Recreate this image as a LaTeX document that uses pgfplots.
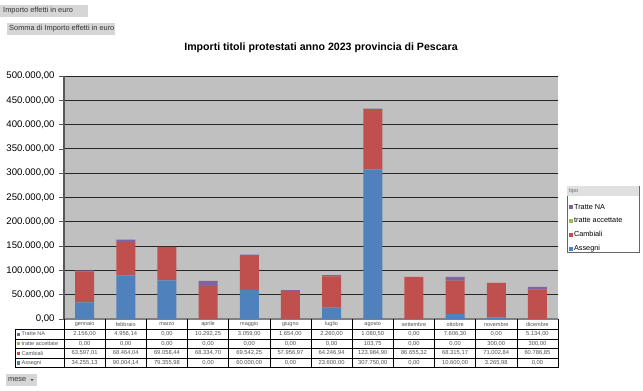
\documentclass[border=0pt]{standalone}
\usepackage{pgfplots}
\pgfplotsset{compat=1.18}
\usepackage{pgfplotstable}
\usepackage{fontspec}
\setmainfont{Liberation Sans}
\definecolor{cNA}{HTML}{8064A2}
\definecolor{cAcc}{HTML}{9BBB59}
\definecolor{cCamb}{HTML}{C0504D}
\definecolor{cAss}{HTML}{4F81BD}
\definecolor{plotbg}{HTML}{C0C0C0}
\definecolor{btn}{HTML}{D6D6D6}
\definecolor{tabtxt}{HTML}{505050}
\pgfkeys{/pgf/number format/itnum/.style={/pgf/number format/fixed, /pgf/number format/fixed zerofill, /pgf/number format/precision=2, /pgf/number format/use comma, /pgf/number format/1000 sep={.}, /pgf/number format/assume math mode=true}}
\pgfplotstableread{
m NA acc camb ass
0 2156.00 0 63597.01 34255.13
1 4956.14 0 68464.04 90004.14
2 0 0 69058.44 79355.98
3 10292.25 0 68334.70 0
4 3059.00 0 69542.25 60000.00
5 1654.00 0 57956.97 0
6 2260.00 0 64246.94 23600.00
7 1080.50 103.75 123984.90 307750.00
8 0 0 86655.32 0
9 7606.30 0 68315.17 10600.00
10 0 300 71002.84 3265.98
11 5134.00 300 60786.85 0
}\data
\begin{document}
\begin{tikzpicture}
\path[use as bounding box] (0,0) rectangle (643pt,-391pt);
\begin{axis}[
  at={(64pt,-319pt)}, anchor=south west,
  scale only axis, width=494pt, height=243pt,
  xmin=-0.5, xmax=11.5, ymin=0, ymax=500000,
  ybar stacked, bar width=19pt,
  axis background/.style={fill=plotbg},
  axis x line*=bottom, axis y line*=left,
  x axis line style={draw=black!50, line width=1.5pt},
  y axis line style={draw=black!65, line width=1.5pt},
  xtick=\empty,
  ytick={0,50000,...,500000},
  ymajorgrids, major grid style={draw=black!85, line width=0.9pt},
  tick style={draw=black!65, line width=0.8pt},
  major tick length=5pt, tick align=outside,
  scaled y ticks=false,
  yticklabel style={/pgf/number format/itnum, font=\fontsize{9.6}{10}\selectfont, xshift=-1pt},
  /pgf/number format/assume math mode=true,
  reverse legend,
  legend style={at={(1.022,0.478)}, anchor=north west, draw=none, fill=none,
    font=\fontsize{7.3}{8}\selectfont, row sep=5.2pt, inner sep=0pt,
    nodes={inner sep=1pt}},
  legend cell align=left,
  legend image code/.code={\fill[#1] (0pt,-2pt) rectangle (4pt,2pt);},
  clip=false,
]
\addplot[fill=cAss, draw=none] table[x=m, y=ass] {\data};
\addplot[fill=cCamb, draw=none] table[x=m, y=camb] {\data};
\addplot[fill=cAcc, draw=none] table[x=m, y=acc] {\data};
\addplot[fill=cNA, draw=none] table[x=m, y=NA] {\data};
\legend{Assegni, Cambiali, tratte accettate, Tratte NA}
\end{axis}
\begin{scope}[x=1pt, y=-1pt]
% title
\node[font=\bfseries\fontsize{10.6}{12}\selectfont] at (321,48) {Importi titoli protestati anno 2023 provincia di Pescara};
% pivot buttons
\fill[btn] (0,5) rectangle (88,16.5);
\node[anchor=west, font=\fontsize{7.4}{8}\selectfont, text=black!80, inner sep=0pt] at (3,10.8) {Importo effetti in euro};
\fill[btn] (7,22.5) rectangle (115,34.5);
\node[anchor=west, font=\fontsize{7.4}{8}\selectfont, text=black!80, inner sep=0pt] at (9,28.5) {Somma di Importo effetti in euro};
\fill[btn] (6,374) rectangle (37,386);
\node[anchor=west, font=\fontsize{7.4}{8}\selectfont, text=black!80, inner sep=0pt] at (8,380) {mese};
\fill[black!70] (30.5,379) -- (33.5,379) -- (32,381) -- cycle;
% legend frame
\draw[black!60, line width=0.7pt] (567,186) rectangle (639,252);
\fill[black!12] (567.4,186.4) rectangle (638.6,196);
\node[anchor=west, font=\fontsize{5.5}{6}\selectfont, text=black!60, inner sep=0pt] at (569,191.2) {tipo};
% data table
\def\colw{41.1667}
\foreach \k in {0,...,12} {
  \pgfmathsetmacro\xx{64+\colw*\k}
  \draw[black, line width=0.6pt] (\xx,319) -- (\xx,367.7);
}
\draw[black, line width=0.6pt] (15,329.3) rectangle (558,367.7);
\foreach \yy in {338.9,348.5,358.1} { \draw[black, line width=0.6pt] (15,\yy) -- (558,\yy); }
\foreach \mname [count=\i from 0] in {gennaio,febbraio,marzo,aprile,maggio,giugno,luglio,agosto,settembre,ottobre,novembre,dicembre} {
  \pgfmathsetmacro\xx{64+\colw*(\i+0.5)}
  \node[font=\fontsize{5.5}{6}\selectfont, text=tabtxt, inner sep=0pt] at (\xx,324.3) {\mname};
}
\foreach \c/\lab/\col [count=\r from 0] in {NA/Tratte NA/cNA, acc/tratte accettate/cAcc, camb/Cambiali/cCamb, ass/Assegni/cAss} {
  \pgfmathsetmacro\yy{334.1+9.6*\r}
  \fill[\col] (17,\yy-1.6) rectangle (20.2,\yy+1.6);
  \node[anchor=west, font=\fontsize{5.5}{6}\selectfont, text=tabtxt, inner sep=0pt] at (21.5,\yy) {\lab};
  \foreach \i in {0,...,11} {
    \pgfplotstablegetelem{\i}{\c}\of\data
    \pgfmathsetmacro\xx{64+\colw*(\i+0.5)}
    \node[font=\fontsize{5.8}{6}\selectfont, text=tabtxt, inner sep=0pt] at (\xx,\yy) {\pgfmathprintnumber[itnum]{\pgfplotsretval}};
  }
}
\end{scope}
\end{tikzpicture}
\end{document}
